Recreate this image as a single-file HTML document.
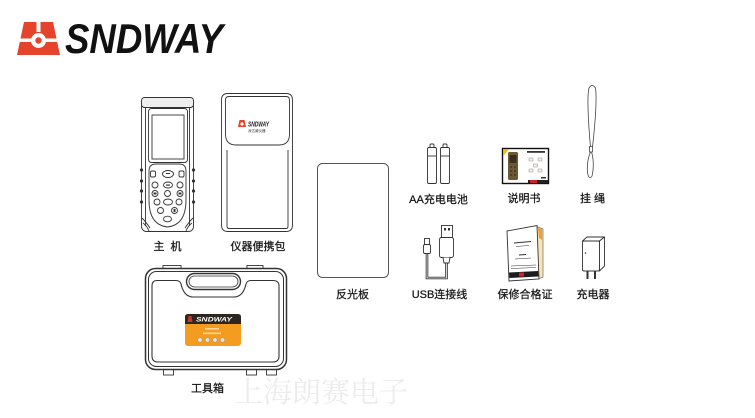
<!DOCTYPE html>
<html><head><meta charset="utf-8">
<style>
html,body{margin:0;padding:0;background:#fff;}
body{width:755px;height:418px;overflow:hidden;}
svg{display:block;}
.lb{font-family:"Liberation Sans","Noto Sans CJK SC",sans-serif;font-size:11px;fill:#151515;stroke:#151515;stroke-width:0.25;text-anchor:middle;}
</style></head><body>
<svg width="755" height="418" viewBox="0 0 755 418" xmlns="http://www.w3.org/2000/svg">
<rect width="755" height="418" fill="#fff"/>

<!-- watermark -->
<text x="321" y="402" font-family="'Noto Serif CJK SC',serif" font-size="29" fill="#ececec" text-anchor="middle">上海朗赛电子</text>

<!-- logo -->
<g transform="translate(17,22)">
  <polygon points="7,0 36,0 43,33 0,33" fill="#e5432b"/>
  <rect x="19.5" y="0" width="4" height="10" fill="#fff"/>
  <rect x="0" y="16.5" width="43" height="3.5" fill="#fff"/>
  <circle cx="21.5" cy="18.5" r="7.5" fill="#fff"/>
  <circle cx="21.5" cy="18.5" r="3.2" fill="#e5432b"/>
</g>
<text x="65" y="53" font-family="'Liberation Sans',sans-serif" font-weight="bold" font-style="italic" font-size="42" textLength="158" lengthAdjust="spacingAndGlyphs" fill="#111">SNDWAY</text>

<!-- main unit -->
<g stroke="#333" stroke-width="0.9" fill="none">
  <rect x="141.5" y="97.5" width="52" height="134" rx="5" fill="#fff"/>
  <rect x="141.5" y="97.5" width="52" height="10" rx="3" fill="#eee"/>
  <line x1="145.5" y1="108" x2="145.5" y2="226"/>
  <line x1="189.5" y1="108" x2="189.5" y2="226"/>
  <rect x="148.5" y="108.5" width="39" height="54" rx="3"/>
  <rect x="152" y="115" width="32" height="44" fill="#fff"/>
  <path d="M149,171 Q149,164 156,164 H179 Q186,164 186,171 V200 Q186,225 167.5,227 Q149,225 149,200 Z" fill="#fff"/>
  <rect x="150.5" y="171" width="5" height="6" rx="1.5"/>
  <ellipse cx="168" cy="174" rx="5.5" ry="3.5"/>
  <rect x="179" y="171" width="5" height="6" rx="1.5"/>
  <circle cx="155" cy="185" r="3"/>
  <ellipse cx="168" cy="185" rx="4.5" ry="3"/>
  <circle cx="180" cy="185" r="3"/>
  <circle cx="155" cy="193.5" r="3"/>
  <circle cx="167.5" cy="193.5" r="3"/>
  <circle cx="180" cy="193.5" r="3"/>
  <circle cx="157" cy="202" r="3"/>
  <ellipse cx="168" cy="202" rx="4.5" ry="3"/>
  <circle cx="179" cy="202" r="3"/>
  <circle cx="160.5" cy="210.5" r="3"/>
  <circle cx="174.5" cy="210.5" r="3"/>
  <ellipse cx="167.5" cy="219" rx="4" ry="2.8"/>
  <path d="M142,218 Q146,222 150,228"/>
  <path d="M193,218 Q189,222 185,228"/>
  <path d="M143,223 Q147,226 149,231"/>
  <path d="M192,223 Q188,226 186,231"/>
</g>
<g fill="#333">
  <circle cx="141.5" cy="170" r="1.6"/><circle cx="141.5" cy="181" r="1.6"/><circle cx="141.5" cy="191" r="1.6"/><circle cx="141.5" cy="202" r="1.6"/>
  <circle cx="193.5" cy="170" r="1.6"/><circle cx="193.5" cy="181" r="1.6"/><circle cx="193.5" cy="191" r="1.6"/><circle cx="193.5" cy="202" r="1.6"/>
  <rect x="166" y="173" width="4" height="1"/>
  <rect x="166" y="184.5" width="4" height="1.2"/>
  <rect x="153.5" y="192.5" width="3" height="2"/>
  <rect x="178.5" y="192.5" width="3" height="2"/>
  <rect x="173.5" y="209" width="2" height="3"/>
</g>

<!-- pouch -->
<g stroke="#333" stroke-width="0.9" fill="none">
  <path d="M221.5,100 Q221.5,93.5 228,93.5 H286 Q292.5,93.5 292.5,100 V225 Q292.5,231.5 286,231.5 H228 Q221.5,231.5 221.5,225 Z" fill="#fff"/>
  <path d="M225.5,100 Q225.5,96.5 229,96.5 H286 Q289.5,96.5 289.5,100 V134 Q289.5,145 279,145 H236 Q225.5,145 225.5,134 Z"/>
  <path d="M227,150 V226 Q227,228.5 229,228.5 H286 Q288,228.5 288,226 V150"/>
</g>
<g transform="translate(238,120)">
  <polygon points="1.5,0 6.5,0 8,7 0,7" fill="#e5432b"/>
  <circle cx="4" cy="4" r="1.6" fill="#fff"/>
</g>
<text x="248" y="126.5" font-family="'Liberation Sans',sans-serif" font-weight="bold" font-style="italic" font-size="7.5" textLength="21" lengthAdjust="spacingAndGlyphs" fill="#222">SNDWAY</text>
<text x="248" y="132" font-family="'Noto Sans CJK SC',sans-serif" font-size="3.5" fill="#333">深达威仪器</text>

<!-- toolbox -->
<g stroke="#333" fill="none">
  <rect x="163" y="265.5" width="18" height="4" fill="#fff" stroke-width="0.9"/>
  <rect x="247" y="265.5" width="16" height="4" fill="#fff" stroke-width="0.9"/>
  <rect x="163.5" y="367" width="10" height="8" fill="#fff" stroke-width="0.9"/>
  <rect x="246.5" y="367" width="10" height="8" fill="#fff" stroke-width="0.9"/>
  <rect x="266.5" y="367" width="10" height="8" fill="#fff" stroke-width="0.9"/>
  <rect x="145.5" y="268.5" width="141" height="101" rx="10" fill="#fff" stroke-width="1.5"/>
  <rect x="148.5" y="271.5" width="135" height="95" rx="8" stroke-width="1"/>
  <path d="M157,280.5 H176 Q180,280.5 181,284 Q184,297 193,297 H234 Q243,297 246,284 Q247,280.5 251,280.5 H273 Q279,280.5 279,286 V356 Q279,362 273,362 H158 Q152,362 152,356 V286 Q152,280.5 157,280.5 Z" stroke-width="1.1"/>
  <rect x="186.5" y="273.5" width="54" height="16" rx="8" stroke-width="1.4"/>
  <rect x="189" y="276" width="49" height="11" rx="5.5" stroke-width="0.8"/>
</g>
<rect x="185" y="314" width="56" height="32" rx="3" fill="#f39c1f"/>
<path d="M185,324 V317 Q185,314 188,314 H238 Q241,314 241,317 V324 Z" fill="#2d2620"/>
<polygon points="188.5,316 191.5,316 192.5,322 187.5,322" fill="#c0392b"/>
<text x="196" y="321.5" font-family="'Liberation Sans',sans-serif" font-weight="bold" font-style="italic" font-size="6.5" textLength="36" lengthAdjust="spacingAndGlyphs" fill="#fff">SNDWAY</text>
<rect x="205" y="328" width="14" height="1.6" fill="#fbd79a"/>
<rect x="203" y="332.5" width="18" height="1.6" fill="#fbd79a"/>
<g fill="#e4e4e4" stroke="#9a8f80" stroke-width="0.5">
  <circle cx="200" cy="340" r="2.2"/><circle cx="207.5" cy="340" r="2.2"/><circle cx="215" cy="340" r="2.2"/><circle cx="222.5" cy="340" r="2.2"/>
</g>

<!-- reflector -->
<rect x="317.5" y="163.5" width="71" height="114" rx="5" fill="#fff" stroke="#555" stroke-width="1"/>

<!-- batteries -->
<g stroke="#333" stroke-width="0.9" fill="#fff">
  <rect x="430" y="144" width="4" height="3.5" rx="1"/>
  <rect x="427.5" y="147.5" width="9" height="36" rx="1.5"/>
  <line x1="427.5" y1="156" x2="436.5" y2="156"/>
  <rect x="443" y="144" width="4" height="3.5" rx="1"/>
  <rect x="440.5" y="147.5" width="9" height="36" rx="1.5"/>
  <line x1="440.5" y1="156" x2="449.5" y2="156"/>
</g>

<!-- USB cable -->
<g fill="none">
  <path d="M446.5,263 V278 H427 V252" stroke="#333" stroke-width="2.6"/>
  <path d="M446.5,263 V278 H427 V252" stroke="#fff" stroke-width="0.8"/>
</g>
<g stroke="#333" stroke-width="0.9" fill="#fff">
  <rect x="441.5" y="225.5" width="11" height="12"/>
  <rect x="439.5" y="237.5" width="14" height="20" rx="2"/>
  <path d="M443,257.5 L444,263 H449 L450,257.5"/>
  <rect x="424.5" y="238.5" width="5" height="6"/>
  <rect x="423.5" y="244.5" width="7" height="9" rx="1.5"/>
</g>
<rect x="444" y="228" width="2" height="2.5" fill="#333"/>
<rect x="448" y="228" width="2" height="2.5" fill="#333"/>

<!-- manual -->
<rect x="502.5" y="148.5" width="46" height="35" fill="#fff" stroke="#111" stroke-width="1.4"/>
<polygon points="503.2,149.2 509,149.2 503.2,156" fill="#f2c200"/>
<rect x="508" y="152" width="10" height="28" rx="1.5" fill="#6b5a35"/>
<rect x="509.5" y="155" width="7" height="8" fill="#3a3020"/>
<g fill="#2a2418"><circle cx="511" cy="167" r="0.8"/><circle cx="515" cy="167" r="0.8"/><circle cx="511" cy="171" r="0.8"/><circle cx="515" cy="171" r="0.8"/><circle cx="511" cy="175" r="0.8"/><circle cx="515" cy="175" r="0.8"/></g>
<rect x="527" y="151" width="18" height="1.8" fill="#333"/>
<g fill="#f3f0e6" stroke="#777" stroke-width="0.4">
  <rect x="529" y="158" width="4" height="3"/><rect x="538" y="158" width="4" height="3"/>
  <rect x="533.5" y="164" width="4" height="3"/>
  <rect x="529" y="169" width="4" height="3"/><rect x="538" y="169" width="4" height="3"/>
</g>
<rect x="541" y="177" width="5" height="1.5" fill="#333"/>
<rect x="528" y="180" width="20" height="3" fill="#222"/>
<rect x="530" y="180" width="7" height="3" fill="#d0202a"/>

<!-- lanyard -->
<g stroke="#444" stroke-width="0.8" fill="none">
  <path d="M590.5,147 C588,120 587,95 589,88 Q592,83 595.5,88 C597,100 595,125 592.5,147"/>
  <rect x="589.5" y="146.5" width="3" height="5.5" fill="#fff"/>
  <path d="M590.5,152 C587,160 586.5,171 588.5,176.5 Q590.5,179 592,176 C594,168 593.5,158 591.5,152"/>
</g>

<!-- warranty card -->
<polygon points="535,226 543,229 543,277 538,279" fill="#fbe3b8" stroke="#555" stroke-width="0.6"/>
<polygon points="538,227.5 542,229.5 542,240 539,238" fill="#f0a030"/>
<polygon points="507,231 537,225.5 539,279 509,281" fill="#fff" stroke="#333" stroke-width="0.9"/>
<g stroke="#333" stroke-width="1">
  <line x1="514" y1="243" x2="531" y2="241.5"/>
  <line x1="516" y1="246.5" x2="529" y2="245.5" stroke-width="0.5"/>
  <line x1="519" y1="255" x2="526" y2="254.5"/>
  <line x1="515" y1="259" x2="531" y2="258" stroke-width="0.6"/>
  <line x1="511" y1="266" x2="536" y2="265" stroke-width="0.5"/>
  <line x1="511" y1="268.5" x2="536" y2="267.5" stroke-width="0.5"/>
</g>
<polygon points="509,272.5 538.3,271 538.5,276.5 509.3,278" fill="#1c1c1c"/>
<rect x="519" y="272.5" width="5" height="4" fill="#d0202a"/>

<!-- charger -->
<g stroke="#333" stroke-width="0.9" stroke-linejoin="round" fill="#fff">
  <polygon points="582.5,241 587,237 604.5,237 599.5,241"/>
  <polygon points="599.5,241 604.5,237 604.5,266 599.5,271"/>
  <rect x="582.5" y="241" width="17" height="30" rx="1.5"/>
</g>
<circle cx="585.5" cy="253" r="0.8" fill="#333"/>
<rect x="586.5" y="271" width="2" height="8" fill="#333"/>
<rect x="594" y="271" width="2" height="8" fill="#333"/>

<!-- labels -->
<text class="lb" x="167.5" y="250">主&#160;&#160;机</text>
<text class="lb" x="258" y="250">仪器便携包</text>
<text class="lb" x="207.5" y="392">工具箱</text>
<text class="lb" x="352.5" y="298">反光板</text>
<text class="lb" x="439.5" y="298">USB连接线</text>
<text class="lb" x="438.5" y="203">AA充电电池</text>
<text class="lb" x="524" y="202">说明书</text>
<text class="lb" x="592.5" y="202">挂&#160;绳</text>
<text class="lb" x="525" y="298">保修合格证</text>
<text class="lb" x="593" y="298">充电器</text>
</svg>
</body></html>
